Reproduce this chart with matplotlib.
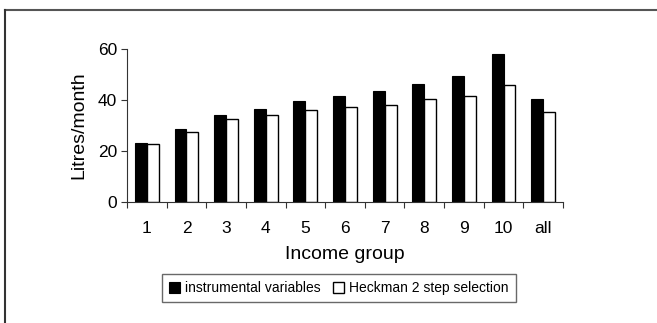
import matplotlib
matplotlib.use('Agg')
import matplotlib.pyplot as plt
import numpy as np
from matplotlib.lines import Line2D

plt.rcParams['font.family'] = ['Liberation Sans', 'DejaVu Sans']

# 소득 그룹별 월 소비량 (리터)
groups = ['1', '2', '3', '4', '5', '6', '7', '8', '9', '10', 'all']
iv_values = [23.0, 28.6, 34.1, 36.5, 39.6, 41.6, 43.6, 46.3, 49.5, 58.1, 40.4]
heckman_values = [22.6, 27.3, 32.6, 34.0, 36.1, 37.2, 38.2, 40.3, 41.7, 45.9, 35.4]
series_names = ['instrumental variables', 'Heckman 2 step selection']

fig = plt.figure(figsize=(6.57, 3.23), dpi=100)
ax = fig.add_axes([0.1933, 0.3755, 0.6637, 0.4719])

x = np.arange(len(groups))
w = 0.3
ax.bar(x - w / 2, iv_values, w, color='black', edgecolor='black', linewidth=0.8,
       label=series_names[0])
ax.bar(x + w / 2, heckman_values, w, color='white', edgecolor='black', linewidth=1.0,
       label=series_names[1])

ax.set_xlim(-0.5, len(groups) - 0.5)
ax.set_ylim(0, 60)
ax.set_yticks([0, 20, 40, 60])

# 눈금선은 그룹 경계에, 라벨은 그룹 중앙에
ax.set_xticks(np.arange(-0.5, len(groups), 1.0))
ax.set_xticklabels([])
ax.set_xticks(x, minor=True)
ax.set_xticklabels(groups, minor=True)
ax.tick_params(axis='x', which='major', length=4, width=0.8, direction='out', color='#333333')
ax.tick_params(axis='x', which='minor', length=0, pad=14, labelsize=12.5)
ax.tick_params(axis='y', length=4, width=0.8, direction='out', color='#333333', labelsize=12.5, pad=3)

for s in ['top', 'right']:
    ax.spines[s].set_visible(False)
for s in ['left', 'bottom']:
    ax.spines[s].set_color('#333333')
    ax.spines[s].set_linewidth(0.8)

ax.set_ylabel('Litres/month', fontsize=14, labelpad=8)
ax.set_xlabel('Income group', fontsize=14, labelpad=7)

leg = fig.legend(loc='center', bbox_to_anchor=(339 / 657, 1 - 288.3 / 323), ncol=2,
                 fontsize=10, frameon=True, fancybox=False, handlelength=0.75,
                 handleheight=0.75, handletextpad=0.4, columnspacing=0.9,
                 borderpad=0.5, borderaxespad=0)
leg.get_frame().set_edgecolor('#444444')
leg.get_frame().set_linewidth(1.0)

# 바깥 테두리 (위쪽, 왼쪽)
fig.add_artist(Line2D([5 / 657, 1.0], [1 - 10 / 323, 1 - 10 / 323],
                      transform=fig.transFigure, color='#555555', linewidth=1.5))
fig.add_artist(Line2D([5 / 657, 5 / 657], [0, 1 - 10 / 323],
                      transform=fig.transFigure, color='#333333', linewidth=1.5))

fig.savefig('out.png', dpi=100)
